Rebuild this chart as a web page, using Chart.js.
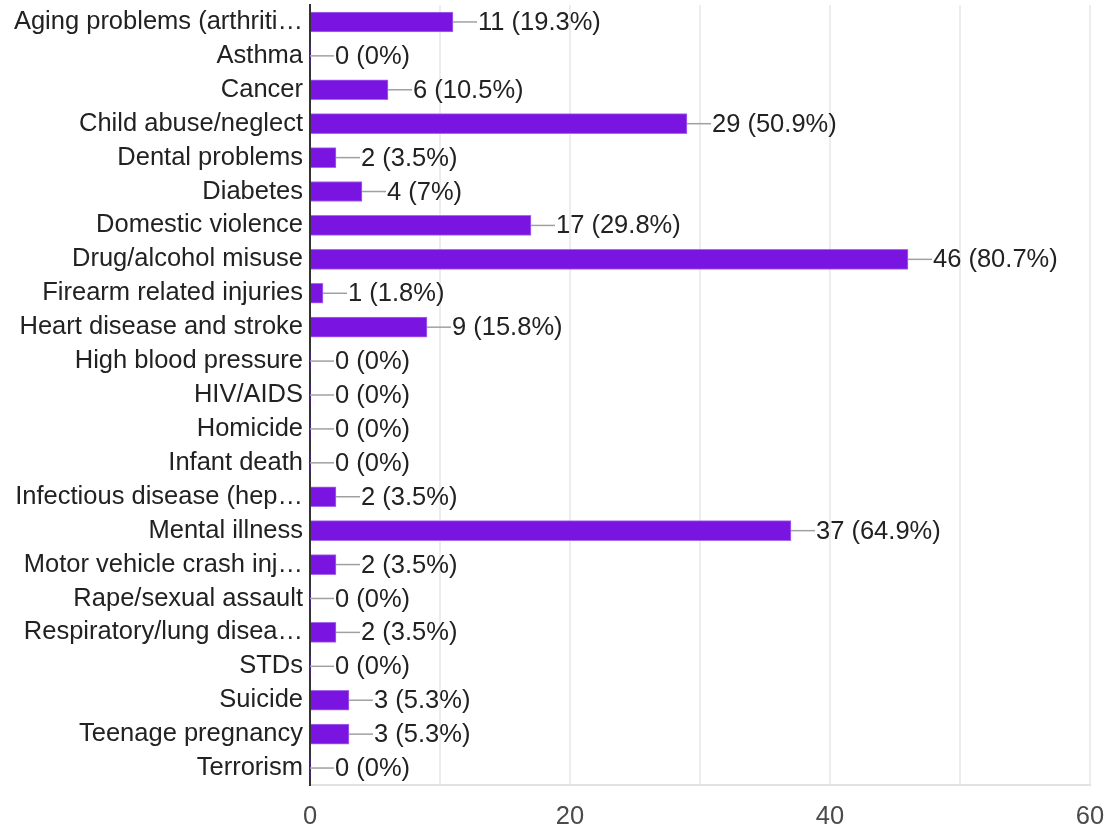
<!DOCTYPE html>
<html>
<head>
<meta charset="utf-8">
<script src="https://cdn.jsdelivr.net/npm/chart.js@4/dist/chart.umd.min.js"></script>
<style>
  html, body { margin: 0; padding: 0; background: #fff; }
  #wrap { width: 1109px; height: 831px; }
</style>
</head>
<body>
<div id="wrap"><canvas id="chart" width="1109" height="831"></canvas></div>
<script>
// ----- Data -----
const categories = [
  "Aging problems (arthriti\u2026", "Asthma", "Cancer", "Child abuse/neglect",
  "Dental problems", "Diabetes", "Domestic violence", "Drug/alcohol misuse",
  "Firearm related injuries", "Heart disease and stroke", "High blood pressure",
  "HIV/AIDS", "Homicide", "Infant death", "Infectious disease (hep\u2026",
  "Mental illness", "Motor vehicle crash inj\u2026", "Rape/sexual assault",
  "Respiratory/lung disea\u2026", "STDs", "Suicide", "Teenage pregnancy", "Terrorism"
];
const counts = [11, 0, 6, 29, 2, 4, 17, 46, 1, 9, 0, 0, 0, 0, 2, 37, 2, 0, 2, 0, 3, 3, 0];
const percents = ["19.3%", "0%", "10.5%", "50.9%", "3.5%", "7%", "29.8%", "80.7%", "1.8%",
  "15.8%", "0%", "0%", "0%", "0%", "3.5%", "64.9%", "3.5%", "0%", "3.5%", "0%",
  "5.3%", "5.3%", "0%"];
const xTicks = [0, 20, 40, 60];

const FONT = "'Liberation Sans', Arial, sans-serif";
const SIZE = 25.5;

// ----- Value labels with a short leader line -----
const valueLabels = {
  id: "valueLabels",
  afterDatasetsDraw(chart) {
    const ctx = chart.ctx;
    const meta = chart.getDatasetMeta(0);
    ctx.save();
    ctx.font = SIZE + "px " + FONT;
    ctx.textBaseline = "middle";
    ctx.textAlign = "left";
    meta.data.forEach((bar, i) => {
      const x = bar.x;
      const y = bar.y;
      ctx.strokeStyle = "#a0a0a0";
      ctx.lineWidth = 1.5;
      ctx.beginPath();
      ctx.moveTo(x, y);
      ctx.lineTo(x + 24, y);
      ctx.stroke();
      ctx.fillStyle = "#222";
      ctx.fillText(counts[i] + " (" + percents[i] + ")", x + 25, y + 1);
    });
    ctx.restore();
  }
};

new Chart(document.getElementById("chart"), {
  type: "bar",
  data: {
    labels: categories,
    datasets: [{
      data: counts,
      backgroundColor: "#7a14e0",
      borderColor: "#a66cec",
      borderWidth: ctx => (counts[ctx.dataIndex] > 0 ? 1 : 0),
      borderSkipped: "start",
      barThickness: 20
    }]
  },
  options: {
    indexAxis: "y",
    responsive: false,
    animation: false,
    layout: { padding: { left: 0, right: 19, top: 5, bottom: 0 } },
    plugins: {
      legend: { display: false },
      tooltip: { enabled: false }
    },
    scales: {
      x: {
        min: 0,
        max: 60,
        afterFit: s => {
          s.height = 46;
          s.paddingLeft = 0;
          s.paddingRight = 0;
        },
        ticks: {
          stepSize: 10,
          padding: 17,
          color: "#4a4a4a",
          font: { family: FONT, size: SIZE },
          callback: v => (xTicks.includes(v) ? v : "")
        },
        grid: { color: "#ededed", lineWidth: 2, drawTicks: false },
        border: { color: "#e2e2e2", width: 2 }
      },
      y: {
        afterFit: s => {
          s.width = 310;
          s.paddingTop = 0;
          s.paddingBottom = 0;
        },
        ticks: {
          padding: 7,
          color: "#222",
          autoSkip: false,
          font: { family: FONT, size: SIZE }
        },
        grid: { display: false, drawTicks: false },
        border: { color: "#333", width: 2 }
      }
    }
  },
  plugins: [valueLabels]
});
</script>
</body>
</html>
